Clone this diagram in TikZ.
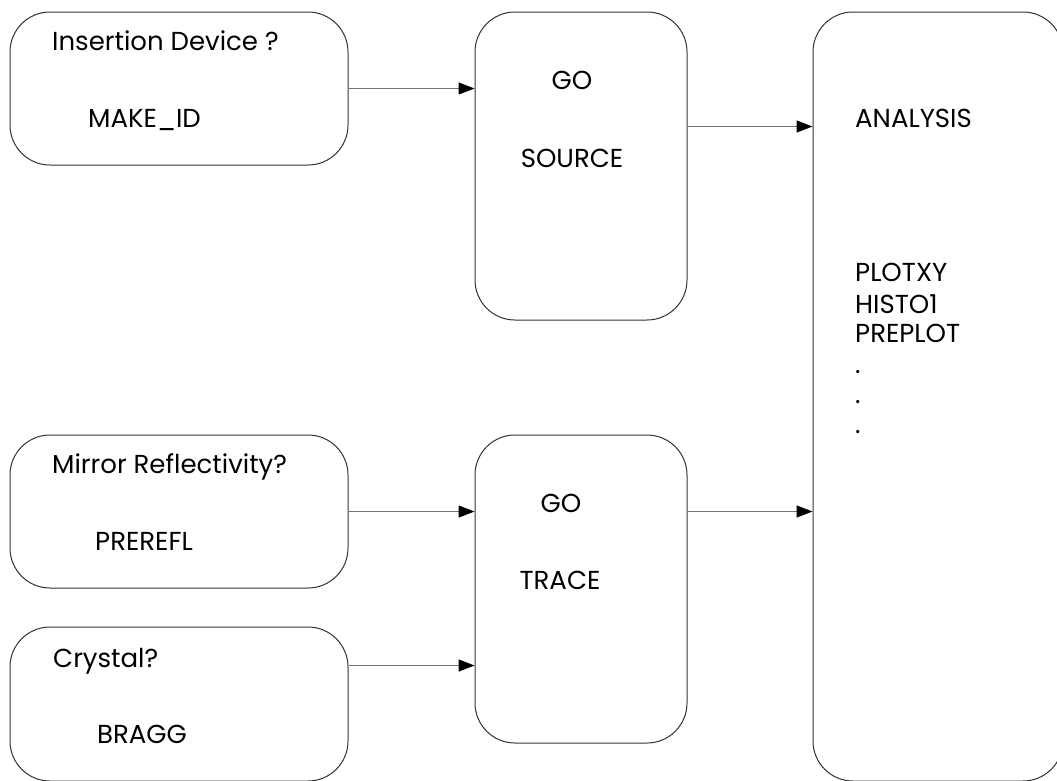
\documentclass[tikz,border=0pt]{standalone}
\usepackage{fontspec}
\setmainfont{Poppins}
\usepackage{tikz}
\usetikzlibrary{arrows.meta}
\tikzset{flow box/.style={draw=black!80,line width=1pt,rectangle,rounded corners=40pt,inner sep=0}}
\tikzset{box label/.style={inner sep=0,font=\fontsize{26}{30}\selectfont,text=black}}
\tikzset{flow arrow/.style={draw=black!55,line width=1.3pt,-{Triangle[length=16pt,width=12pt,fill=black,color=black]}}}

\begin{document}
\begin{tikzpicture}[x=1pt,y=-1pt]

            \useasboundingbox (0,0) rectangle (1057,780);

            \def \sideWidth{338pt}
            \def \sideHeight{153pt}
            \def \goWidth{212pt}
            \def \goHeight{308pt}

            % boxes
            \node[flow box, minimum width=\sideWidth, minimum height=\sideHeight] (idBox)      at (179, 88.5)  {};
            \node[flow box, minimum width=\sideWidth, minimum height=\sideHeight] (mirrorBox)  at (179, 511.5) {};
            \node[flow box, minimum width=\sideWidth, minimum height=154pt]       (crystalBox) at (179, 704)   {};
            \node[flow box, minimum width=\goWidth,   minimum height=\goHeight]   (sourceBox)  at (581, 166)   {};
            \node[flow box, minimum width=\goWidth,   minimum height=\goHeight]   (traceBox)   at (581, 589)   {};
            \node[flow box, minimum width=250pt,      minimum height=769pt]       (analysisBox) at (938, 396.5) {};

            % texts
            \node[box label, anchor=base west] (idQ)      at (52, 50)   {Insertion Device ?};
            \node[box label, anchor=base west] (idCmd)    at (88, 127)  {MAKE\_ID};
            \node[box label, anchor=base west] (mirrorQ)  at (52, 473)  {Mirror Reflectivity?};
            \node[box label, anchor=base west] (mirrorCmd) at (95, 550) {PREREFL};
            \node[box label, anchor=base west] (crystalQ) at (53, 667)  {Crystal?};
            \node[box label, anchor=base west] (crystalCmd) at (97, 743) {BRAGG};
            \node[box label, anchor=base] (sourceGo)  at (572, 89)  {GO};
            \node[box label, anchor=base] (sourceCmd) at (572, 167) {SOURCE};
            \node[box label, anchor=base] (traceGo)   at (561, 512) {GO};
            \node[box label, anchor=base] (traceCmd)  at (560, 589) {TRACE};
            \node[box label, anchor=base west] (analysisTitle) at (855, 127) {ANALYSIS};
            \node[box label, anchor=base west] (plotxy)  at (855, 281) {PLOTXY};
            \node[box label, anchor=base west] (histo)   at (855, 313) {HISTO1};
            \node[box label, anchor=base west] (preplot) at (855, 342) {PREPLOT};
            \foreach \y/\n in {373/dotA, 403/dotB, 433/dotC}
              \node[box label, anchor=base west] (\n) at (855, \y) {.};

            % arrows
            \draw[flow arrow] (idBox.east) -- (idBox.east -| sourceBox.west);
            \draw[flow arrow] ([yshift=-115pt]sourceBox.north east) -- ([yshift=-115pt]analysisBox.north west);
            \draw[flow arrow] (mirrorBox.east) -- (mirrorBox.east -| traceBox.west);
            \draw[flow arrow] ([yshift=-39pt]crystalBox.north east) -- ([yshift=-39pt]crystalBox.north east -| traceBox.west);
            \draw[flow arrow] (traceBox.east |- mirrorBox.east) -- (analysisBox.west |- mirrorBox.east);

          \end{tikzpicture}
\end{document}
